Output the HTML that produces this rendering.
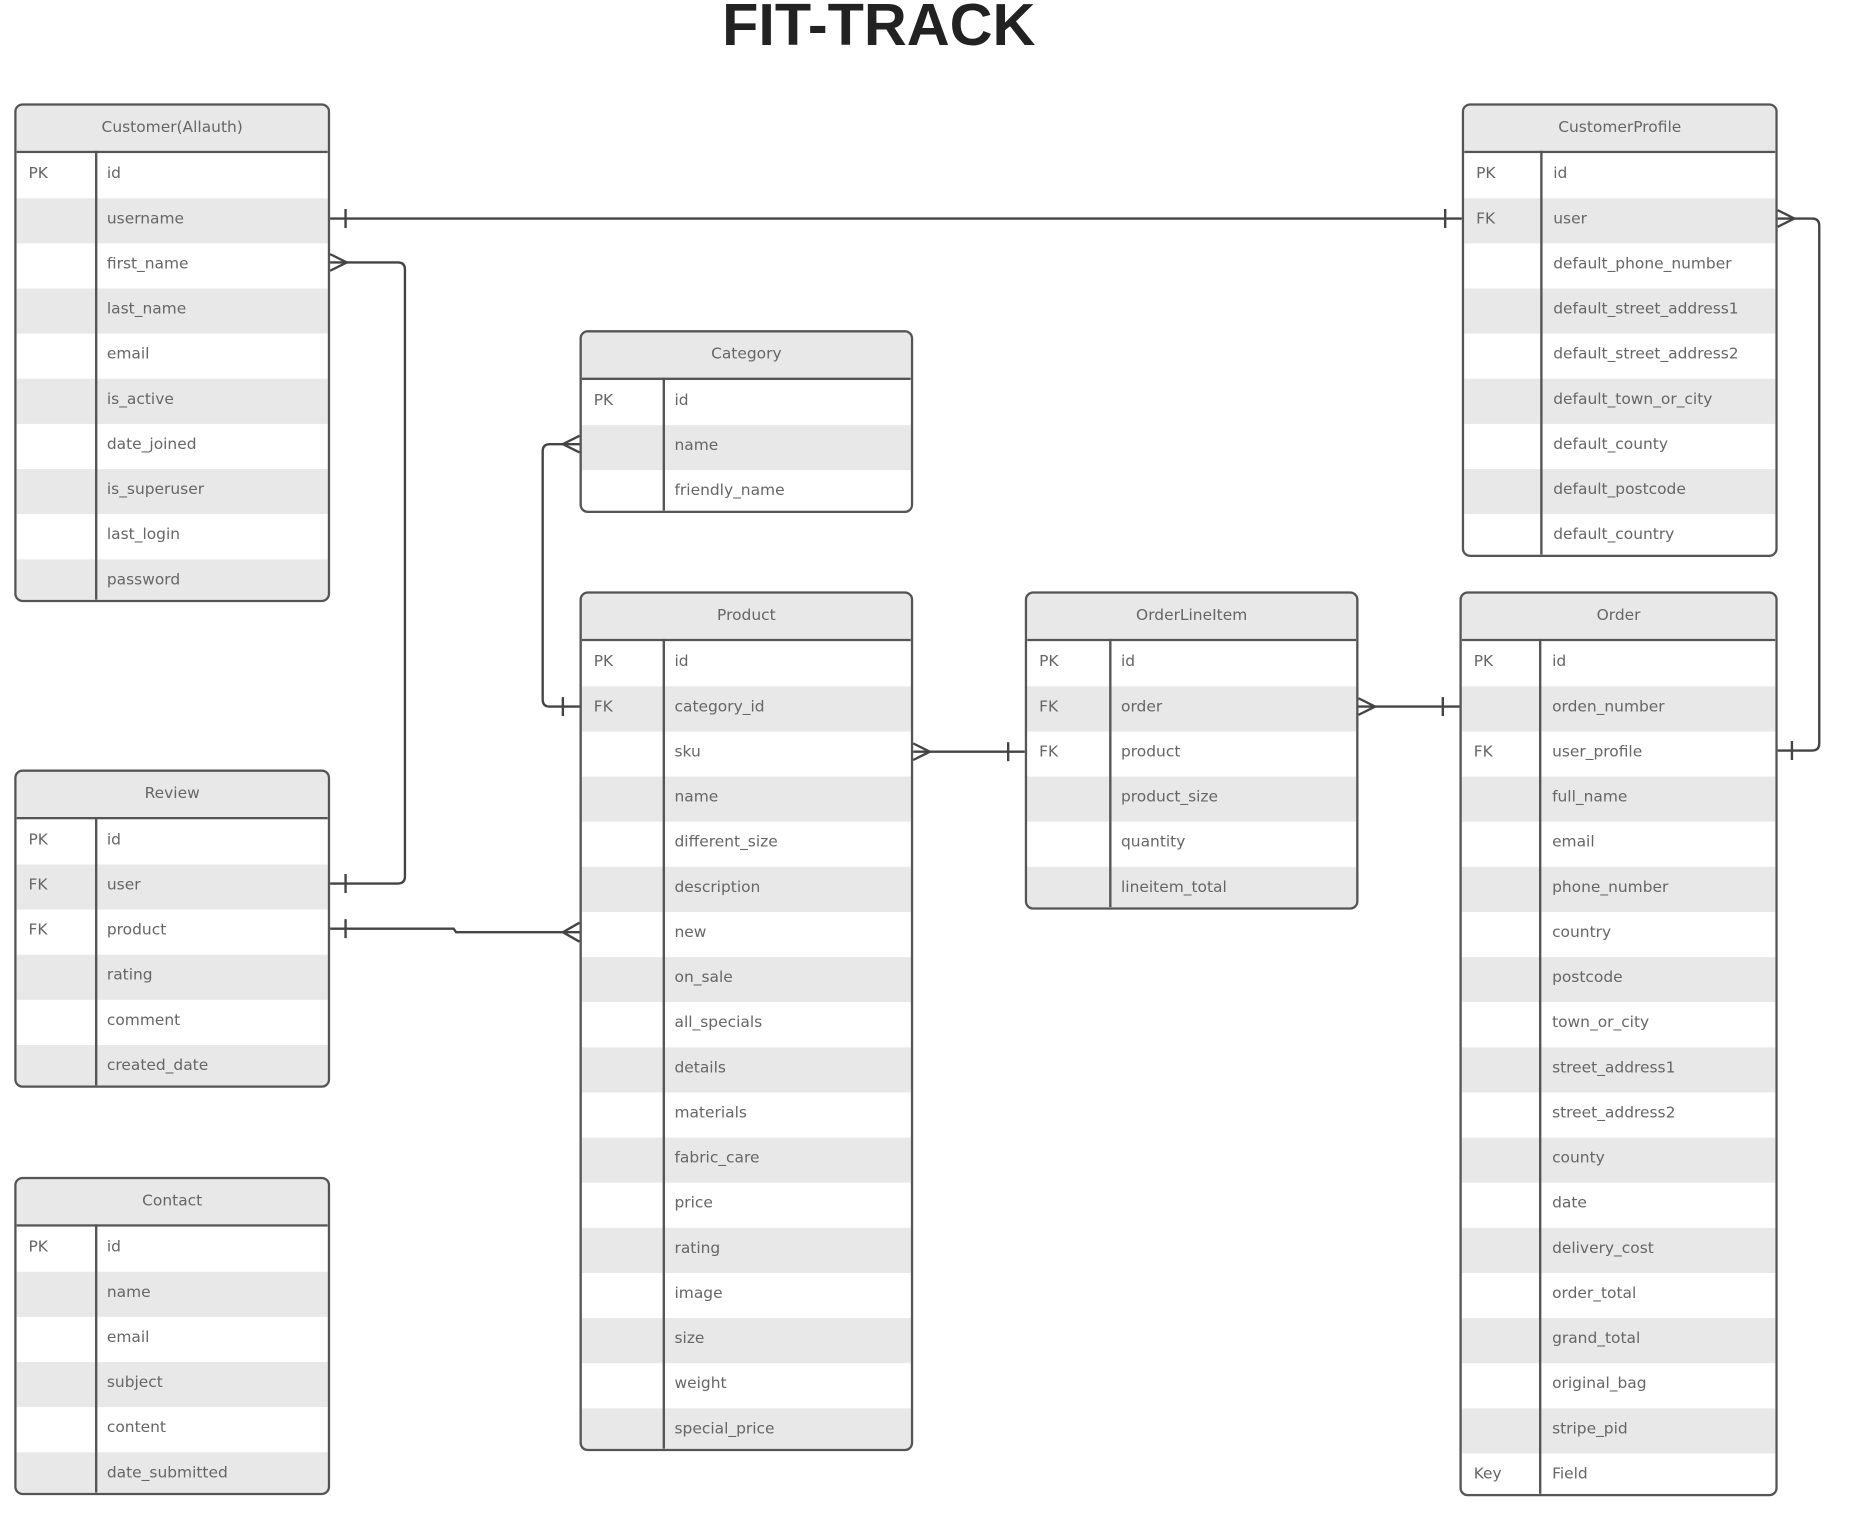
<!DOCTYPE html>
<html><head><meta charset="utf-8"><style>
html,body{margin:0;padding:0;background:#fff;}
#wrap{width:1862px;height:1526px;overflow:hidden;position:relative;}
#c{position:absolute;left:0;top:0;width:1568px;height:1285px;transform:scale(1.1875);transform-origin:0 0;font-family:"DejaVu Sans","Liberation Sans",sans-serif;}
.t{position:absolute;border:2px solid #555;border-radius:7px;overflow:hidden;background:#fff;box-sizing:border-box;}
.h{height:38px;line-height:38px;text-align:center;background:#e8e8e8;border-bottom:2px solid #555;font-size:13px;color:#666;}
.r{height:38px;line-height:36px;font-size:13px;color:#666;position:relative;white-space:nowrap;}
.k{position:absolute;left:10px;}
.f{position:absolute;}
.v{position:absolute;top:38px;bottom:0;width:2px;background:#555;z-index:5;}
h1{position:absolute;left:0;width:1480px;text-align:center;top:-8px;margin:0;font-family:"Liberation Sans",sans-serif;font-size:50px;font-weight:bold;color:#222;}
svg{position:absolute;left:0;top:0;}
</style></head><body><div id="wrap"><div id="c">
<h1>FIT-TRACK</h1>

<div class="t" style="left:12px;top:87px;width:266px;height:420px;"><div class="h">Customer(Allauth)</div><div class="v" style="left:66px"></div><div>
<div class="r" style="background:#fff"><span class="k">PK</span><span class="f" style="left:76px">id</span></div>
<div class="r" style="background:#e8e8e8"><span class="f" style="left:76px">username</span></div>
<div class="r" style="background:#fff"><span class="f" style="left:76px">first_name</span></div>
<div class="r" style="background:#e8e8e8"><span class="f" style="left:76px">last_name</span></div>
<div class="r" style="background:#fff"><span class="f" style="left:76px">email</span></div>
<div class="r" style="background:#e8e8e8"><span class="f" style="left:76px">is_active</span></div>
<div class="r" style="background:#fff"><span class="f" style="left:76px">date_joined</span></div>
<div class="r" style="background:#e8e8e8"><span class="f" style="left:76px">is_superuser</span></div>
<div class="r" style="background:#fff"><span class="f" style="left:76px">last_login</span></div>
<div class="r" style="background:#e8e8e8"><span class="f" style="left:76px">password</span></div>
</div></div>

<div class="t" style="left:12px;top:648px;width:266px;height:268px;"><div class="h">Review</div><div class="v" style="left:66px"></div>
<div class="r" style="background:#fff"><span class="k">PK</span><span class="f" style="left:76px">id</span></div>
<div class="r" style="background:#e8e8e8"><span class="k">FK</span><span class="f" style="left:76px">user</span></div>
<div class="r" style="background:#fff"><span class="k">FK</span><span class="f" style="left:76px">product</span></div>
<div class="r" style="background:#e8e8e8"><span class="f" style="left:76px">rating</span></div>
<div class="r" style="background:#fff"><span class="f" style="left:76px">comment</span></div>
<div class="r" style="background:#e8e8e8"><span class="f" style="left:76px">created_date</span></div>
</div>

<div class="t" style="left:12px;top:991px;width:266px;height:268px;"><div class="h">Contact</div><div class="v" style="left:66px"></div>
<div class="r" style="background:#fff"><span class="k">PK</span><span class="f" style="left:76px">id</span></div>
<div class="r" style="background:#e8e8e8"><span class="f" style="left:76px">name</span></div>
<div class="r" style="background:#fff"><span class="f" style="left:76px">email</span></div>
<div class="r" style="background:#e8e8e8"><span class="f" style="left:76px">subject</span></div>
<div class="r" style="background:#fff"><span class="f" style="left:76px">content</span></div>
<div class="r" style="background:#e8e8e8"><span class="f" style="left:76px">date_submitted</span></div>
</div>

<div class="t" style="left:488px;top:278px;width:281px;height:154px;"><div class="h">Category</div><div class="v" style="left:68px"></div>
<div class="r" style="background:#fff"><span class="k">PK</span><span class="f" style="left:78px">id</span></div>
<div class="r" style="background:#e8e8e8"><span class="f" style="left:78px">name</span></div>
<div class="r" style="background:#fff"><span class="f" style="left:78px">friendly_name</span></div>
</div>

<div class="t" style="left:488px;top:498px;width:281px;height:724px;"><div class="h">Product</div><div class="v" style="left:68px"></div>
<div class="r" style="background:#fff"><span class="k">PK</span><span class="f" style="left:78px">id</span></div>
<div class="r" style="background:#e8e8e8"><span class="k">FK</span><span class="f" style="left:78px">category_id</span></div>
<div class="r" style="background:#fff"><span class="f" style="left:78px">sku</span></div>
<div class="r" style="background:#e8e8e8"><span class="f" style="left:78px">name</span></div>
<div class="r" style="background:#fff"><span class="f" style="left:78px">different_size</span></div>
<div class="r" style="background:#e8e8e8"><span class="f" style="left:78px">description</span></div>
<div class="r" style="background:#fff"><span class="f" style="left:78px">new</span></div>
<div class="r" style="background:#e8e8e8"><span class="f" style="left:78px">on_sale</span></div>
<div class="r" style="background:#fff"><span class="f" style="left:78px">all_specials</span></div>
<div class="r" style="background:#e8e8e8"><span class="f" style="left:78px">details</span></div>
<div class="r" style="background:#fff"><span class="f" style="left:78px">materials</span></div>
<div class="r" style="background:#e8e8e8"><span class="f" style="left:78px">fabric_care</span></div>
<div class="r" style="background:#fff"><span class="f" style="left:78px">price</span></div>
<div class="r" style="background:#e8e8e8"><span class="f" style="left:78px">rating</span></div>
<div class="r" style="background:#fff"><span class="f" style="left:78px">image</span></div>
<div class="r" style="background:#e8e8e8"><span class="f" style="left:78px">size</span></div>
<div class="r" style="background:#fff"><span class="f" style="left:78px">weight</span></div>
<div class="r" style="background:#e8e8e8"><span class="f" style="left:78px">special_price</span></div>
</div>

<div class="t" style="left:863px;top:498px;width:281px;height:268px;"><div class="h">OrderLineItem</div><div class="v" style="left:69px"></div>
<div class="r" style="background:#fff"><span class="k">PK</span><span class="f" style="left:79px">id</span></div>
<div class="r" style="background:#e8e8e8"><span class="k">FK</span><span class="f" style="left:79px">order</span></div>
<div class="r" style="background:#fff"><span class="k">FK</span><span class="f" style="left:79px">product</span></div>
<div class="r" style="background:#e8e8e8"><span class="f" style="left:79px">product_size</span></div>
<div class="r" style="background:#fff"><span class="f" style="left:79px">quantity</span></div>
<div class="r" style="background:#e8e8e8"><span class="f" style="left:79px">lineitem_total</span></div>
</div>

<div class="t" style="left:1231px;top:87px;width:266px;height:382px;"><div class="h">CustomerProfile</div><div class="v" style="left:64px"></div>
<div class="r" style="background:#fff"><span class="k">PK</span><span class="f" style="left:75px">id</span></div>
<div class="r" style="background:#e8e8e8"><span class="k">FK</span><span class="f" style="left:75px">user</span></div>
<div class="r" style="background:#fff"><span class="f" style="left:75px">default_phone_number</span></div>
<div class="r" style="background:#e8e8e8"><span class="f" style="left:75px">default_street_address1</span></div>
<div class="r" style="background:#fff"><span class="f" style="left:75px">default_street_address2</span></div>
<div class="r" style="background:#e8e8e8"><span class="f" style="left:75px">default_town_or_city</span></div>
<div class="r" style="background:#fff"><span class="f" style="left:75px">default_county</span></div>
<div class="r" style="background:#e8e8e8"><span class="f" style="left:75px">default_postcode</span></div>
<div class="r" style="background:#fff"><span class="f" style="left:75px">default_country</span></div>
</div>

<div class="t" style="left:1229px;top:498px;width:268px;height:762px;"><div class="h">Order</div><div class="v" style="left:65px"></div>
<div class="r" style="background:#fff"><span class="k">PK</span><span class="f" style="left:76px">id</span></div>
<div class="r" style="background:#e8e8e8"><span class="f" style="left:76px">orden_number</span></div>
<div class="r" style="background:#fff"><span class="k">FK</span><span class="f" style="left:76px">user_profile</span></div>
<div class="r" style="background:#e8e8e8"><span class="f" style="left:76px">full_name</span></div>
<div class="r" style="background:#fff"><span class="f" style="left:76px">email</span></div>
<div class="r" style="background:#e8e8e8"><span class="f" style="left:76px">phone_number</span></div>
<div class="r" style="background:#fff"><span class="f" style="left:76px">country</span></div>
<div class="r" style="background:#e8e8e8"><span class="f" style="left:76px">postcode</span></div>
<div class="r" style="background:#fff"><span class="f" style="left:76px">town_or_city</span></div>
<div class="r" style="background:#e8e8e8"><span class="f" style="left:76px">street_address1</span></div>
<div class="r" style="background:#fff"><span class="f" style="left:76px">street_address2</span></div>
<div class="r" style="background:#e8e8e8"><span class="f" style="left:76px">county</span></div>
<div class="r" style="background:#fff"><span class="f" style="left:76px">date</span></div>
<div class="r" style="background:#e8e8e8"><span class="f" style="left:76px">delivery_cost</span></div>
<div class="r" style="background:#fff"><span class="f" style="left:76px">order_total</span></div>
<div class="r" style="background:#e8e8e8"><span class="f" style="left:76px">grand_total</span></div>
<div class="r" style="background:#fff"><span class="f" style="left:76px">original_bag</span></div>
<div class="r" style="background:#e8e8e8"><span class="f" style="left:76px">stripe_pid</span></div>
<div class="r" style="background:#fff"><span class="k">Key</span><span class="f" style="left:76px">Field</span></div>
</div>

<svg width="1568" height="1285" viewBox="0 0 1568 1285" fill="none" stroke="#444" stroke-width="2">
<path d="M278 184 H1231"/><path d="M291 176 V192 M1217 176 V192"/>
<path d="M278 221 H335 Q341 221 341 227 V738 Q341 744 335 744 H278"/>
<path d="M278 214 L292 221 L278 228"/><path d="M291 736 V752"/>
<path d="M278 782 H382 L384 785 H488"/><path d="M291 774 V790"/><path d="M488 777 L474 785 L488 793"/>
<path d="M488 374 H463 Q457 374 457 380 V589 Q457 595 463 595 H488"/>
<path d="M488 367 L474 374 L488 381"/><path d="M474 587 V603"/>
<path d="M769 633 H863"/><path d="M769 626 L783 633 L769 640"/><path d="M849 625 V641"/>
<path d="M1144 595 H1229"/><path d="M1144 588 L1158 595 L1144 602"/><path d="M1215 587 V603"/>
<path d="M1497 184 H1526 Q1532 184 1532 190 V626 Q1532 632 1526 632 H1497"/>
<path d="M1497 177 L1511 184 L1497 191"/><path d="M1509 624 V640"/>
</svg>
</div></div></body></html>
